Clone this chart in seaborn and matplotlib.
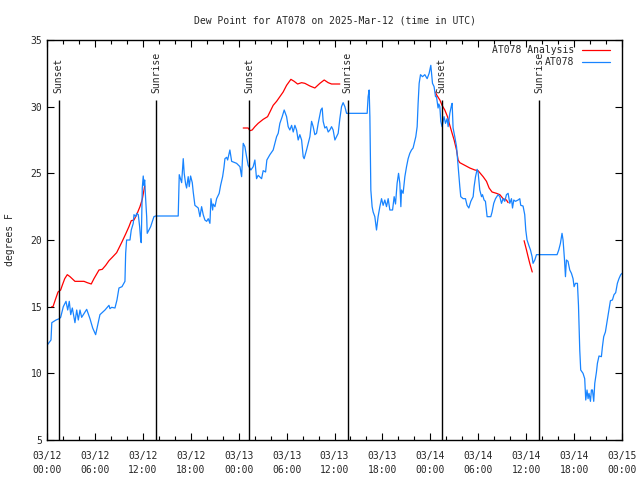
import numpy as np
import pandas as pd
import matplotlib
matplotlib.use("Agg")
import matplotlib.pyplot as plt
import matplotlib.dates as mdates
import seaborn as sns

start = pd.Timestamp("2025-03-12 00:00")

# observed dew point (hours after 03/12 00:00 UTC, degrees F)
obs_hours = [0.0, 0.5, 0.6, 1.13, 1.54, 1.71, 2.04, 2.38, 2.59, 2.79, 2.97, 3.17, 3.5, 3.72,
             3.92, 4.13, 4.34, 4.97, 5.38, 5.72, 6.09, 6.42, 6.63, 7.26, 7.76, 7.88, 8.1, 8.51,
             8.76, 9.01, 9.39, 9.76, 9.85, 9.97, 10.39, 10.55, 10.8, 10.89, 11.1, 11.23, 11.43,
             11.6, 11.73, 11.8, 11.93, 12.05, 12.14, 12.23, 12.35, 12.48, 12.55, 12.77, 12.98,
             13.39, 13.6, 16.43, 16.56, 16.86, 17.06, 17.18, 17.36, 17.48, 17.68, 17.81, 17.98,
             18.19, 18.31, 18.52, 18.74, 18.94, 19.15, 19.36, 19.56, 19.77, 19.99, 20.19, 20.4,
             20.53, 20.74, 20.81, 21.03, 21.24, 21.56, 21.74, 21.99, 22.15, 22.28, 22.49, 22.62,
             22.9, 23.12, 23.74, 24.16, 24.37, 24.57, 24.78, 24.99, 25.19, 25.53, 25.82, 26.03,
             26.24, 26.44, 26.87, 27.07, 27.37, 27.53, 27.91, 28.32, 28.75, 28.95, 29.16, 29.45,
             29.7, 30.0, 30.2, 30.41, 30.63, 30.83, 31.04, 31.25, 31.45, 31.66, 31.88, 32.08,
             32.2, 32.5, 32.92, 33.13, 33.33, 33.54, 33.75, 33.96, 34.29, 34.46, 34.58, 34.79,
             35.0, 35.21, 35.42, 35.63, 35.83, 36.05, 36.26, 36.46, 36.67, 36.88, 37.08, 37.3,
             37.51, 40.09, 40.21, 40.34, 40.43, 40.55, 40.71, 40.84, 41.05, 41.26, 41.46, 41.68,
             41.89, 42.09, 42.3, 42.51, 42.72, 42.93, 43.27, 43.47, 43.64, 43.84, 44.02, 44.18,
             44.31, 44.39, 44.59, 44.81, 45.02, 45.22, 45.43, 45.64, 45.84, 46.18, 46.35, 46.47,
             46.6, 46.77, 47.02, 47.31, 47.6, 47.85, 48.06, 48.27, 48.47, 48.65, 48.77, 48.97,
             49.06, 49.19, 49.31, 49.47, 49.72, 49.9, 50.1, 50.23, 50.44, 50.65, 50.73, 50.85,
             51.06, 51.28, 51.48, 51.69, 51.81, 52.1, 52.4, 52.6, 52.82, 53.07, 53.36, 53.48,
             53.66, 53.86, 53.98, 54.19, 54.41, 54.53, 54.73, 54.9, 55.11, 55.57, 55.73, 55.94,
             56.16, 56.48, 56.7, 56.91, 57.11, 57.32, 57.53, 57.74, 57.95, 58.16, 58.29, 58.45,
             58.66, 58.99, 59.2, 59.32, 59.61, 59.82, 59.95, 60.11, 60.33, 60.54, 60.74, 60.86,
             61.08, 61.29, 63.87, 64.08, 64.29, 64.49, 64.62, 64.79, 64.92, 65.04, 65.24, 65.46,
             65.67, 65.87, 66.0, 66.17, 66.42, 66.55, 66.71, 66.83, 67.12, 67.33, 67.46, 67.62,
             67.75, 67.87, 68.05, 68.17, 68.3, 68.46, 68.59, 68.8, 68.92, 69.12, 69.42, 69.55,
             69.71, 69.92, 70.13, 70.34, 70.55, 70.8, 71.0, 71.21, 71.42, 71.62, 71.84, 72.0]
obs_dewpt = [12.1, 12.5, 13.8, 14.0, 14.1, 14.2, 15.0, 15.4, 14.75, 15.4, 14.4, 14.9, 13.8, 14.75,
             14.0, 14.75, 14.2, 14.8, 14.1, 13.4, 12.9, 13.8, 14.4, 14.75, 15.1, 14.85, 14.95, 14.9,
             15.5, 16.4, 16.5, 16.9, 19.0, 20.0, 20.0, 20.75, 21.25, 21.9, 21.75, 22.0, 21.9,
             21.0, 20.0, 19.8, 23.9, 24.8, 24.1, 24.5, 23.1, 21.75, 20.5, 20.75, 21.0,
             21.75, 21.8, 21.8, 24.9, 24.3, 26.1, 25.0, 24.2, 23.9, 24.75, 24.0, 24.8,
             24.3, 23.6, 22.6, 22.5, 22.4, 21.75, 22.5, 21.9, 21.5, 21.4, 21.6, 21.25,
             23.1, 22.25, 22.7, 22.5, 23.1, 23.5, 24.1, 24.75, 25.4, 26.1, 26.2, 26.0,
             26.75, 25.9, 25.75, 25.5, 24.75, 27.25, 27.0, 26.25, 25.6, 25.25, 25.5, 26.0,
             24.6, 24.85, 24.6, 25.2, 25.1, 26.0, 26.4, 26.75, 27.75, 28.0, 28.75, 29.25,
             29.75, 29.25, 28.5, 28.25, 28.6, 28.1, 28.6, 28.25, 27.5, 27.9, 27.5, 26.25,
             26.1, 26.75, 27.75, 28.9, 28.5, 27.9, 28.0, 28.75, 29.75, 29.9, 28.9, 28.4,
             28.5, 28.1, 28.25, 28.5, 28.25, 27.5, 27.75, 28.0, 29.1, 30.0, 30.3, 30.0,
             29.5, 29.5, 30.75, 31.25, 29.25, 23.75, 22.5, 22.1, 21.75, 20.75, 21.75, 22.5,
             23.1, 22.6, 23.0, 22.5, 23.1, 22.25, 22.25, 23.25, 22.7, 24.25, 25.0, 24.25,
             22.5, 23.75, 23.5, 24.75, 25.5, 26.1, 26.5, 26.75, 26.9, 27.75, 28.5, 30.25,
             31.75, 32.4, 32.25, 32.4, 32.1, 32.5, 33.1, 31.75, 31.5, 30.75, 30.75, 29.9,
             30.2, 30.0, 28.9, 28.5, 29.25, 28.75, 29.1, 28.5, 29.5, 30.1, 30.25, 28.4,
             27.75, 27.0, 25.5, 24.0, 23.25, 23.1, 23.1, 22.6, 22.4, 22.9, 23.25, 24.0,
             24.75, 25.3, 25.1, 23.75, 23.25, 23.4, 23.0, 22.9, 21.75, 21.75, 22.1, 22.75,
             23.1, 23.4, 23.25, 22.75, 23.1, 22.9, 23.4, 23.5, 22.75, 23.1, 22.4, 23.0,
             22.9, 23.0, 23.1, 22.6, 22.55, 21.9, 20.75, 20.0, 19.6, 19.25, 18.75, 18.25,
             18.5, 18.9, 18.9, 19.25, 19.75, 20.5, 20.0, 18.6, 17.25, 18.5, 18.4, 17.75,
             17.5, 17.1, 16.5, 16.75, 16.75, 15.1, 11.75, 10.25, 10.0, 9.6, 8.0, 8.75,
             8.1, 8.5, 7.9, 8.75, 8.75, 7.9, 9.25, 10.1, 10.75, 11.3, 11.25, 12.0,
             12.75, 13.1, 13.9, 14.75, 15.45, 15.5, 15.9, 16.05, 16.75, 17.1, 17.4, 17.5]

# analysis dew point, four separate pieces
ana_seg = [1] * 31 + [2] * 26 + [3] * 25 + [4] * 5
ana_hours = [0.59, 0.75, 1.09, 1.38, 1.71, 1.91, 2.22, 2.54, 2.88, 3.5, 4.63, 5.04, 5.54, 5.88,
             6.22, 6.51, 6.92, 7.35, 7.76, 8.17, 8.72, 9.01, 9.42, 9.85, 10.26, 10.55, 10.89,
             11.23, 11.64, 11.93, 12.23,
             24.57, 25.19, 25.41, 25.69, 26.03, 26.44, 27.07, 27.62, 27.91, 28.32, 28.75, 29.16,
             29.57, 30.0, 30.54, 30.95, 31.38, 31.88, 32.29, 32.92, 33.54, 34.17, 34.71, 35.21,
             35.63, 36.67,
             48.65, 48.77, 49.19, 49.47, 49.81, 50.15, 50.44, 50.73, 50.98, 51.28, 51.48, 51.69,
             52.32, 52.94, 53.57, 53.98, 54.61, 55.03, 55.36, 55.73, 56.28, 56.7, 57.11, 57.53,
             57.74,
             59.74, 60.04, 60.24, 60.45, 60.76]
ana_dewpt = [15.0, 15.0, 15.6, 16.1, 16.25, 16.6, 17.1, 17.4, 17.25, 16.9, 16.9, 16.8, 16.7, 17.1,
             17.45, 17.75, 17.8, 18.1, 18.45, 18.7, 19.05, 19.4, 19.9, 20.45, 21.0, 21.45, 21.5,
             21.9, 22.5, 23.05, 24.05,
             28.4, 28.4, 28.2, 28.25, 28.5, 28.75, 29.05, 29.25, 29.6, 30.1, 30.4, 30.75,
             31.1, 31.6, 32.05, 31.9, 31.7, 31.8, 31.75, 31.55, 31.4, 31.75, 32.0, 31.8,
             31.7, 31.7,
             31.1, 30.9, 30.5, 30.1, 29.75, 29.25, 28.6, 28.0, 27.5, 26.75, 26.0, 25.8,
             25.6, 25.4, 25.25, 25.2, 24.75, 24.4, 23.9, 23.6, 23.5, 23.4, 23.1, 23.0,
             22.8,
             19.95, 19.25, 18.75, 18.25, 17.6]

sun_hours = [1.44, 13.64, 25.3, 37.67, 49.4, 61.6]
sun_labels = ["Sunset", "Sunrise", "Sunset", "Sunrise", "Sunset", "Sunrise"]

obs = pd.DataFrame({"time": start + pd.to_timedelta(obs_hours, unit="h"), "dewpt": obs_dewpt})
ana = pd.DataFrame({"time": start + pd.to_timedelta(ana_hours, unit="h"), "dewpt": ana_dewpt,
                    "seg": ana_seg})
sun_times = start + pd.to_timedelta(sun_hours, unit="h")

sns.set_style("ticks")
plt.rcParams["font.family"] = ["DejaVu Sans Mono"]
plt.rcParams["font.size"] = 7

fig = plt.figure(figsize=(6.4, 4.8), dpi=100)
ax = fig.add_axes([47 / 640, 40 / 480, 575 / 640, 400 / 480])

blue = "#1884ff"
red = "#ff0000"
sns.lineplot(data=ana, x="time", y="dewpt", units="seg", estimator=None, color=red,
             linewidth=0.9, ax=ax)
sns.lineplot(data=obs, x="time", y="dewpt", estimator=None, color=blue, linewidth=0.9, ax=ax)

for t, lab in zip(sun_times, sun_labels):
    ax.vlines(t, 5, 30.5, color="black", linewidth=1.0)
    ax.text(t, 31.0, lab, rotation=90, ha="center", va="bottom", fontsize=7)

ax.set_xlim(start, start + pd.Timedelta(hours=72))
ax.set_ylim(5, 35)
ax.set_yticks(np.arange(5, 36, 5))
ax.xaxis.set_major_locator(mdates.HourLocator(byhour=[0, 6, 12, 18]))
ax.xaxis.set_minor_locator(mdates.HourLocator(interval=2))
ax.xaxis.set_major_formatter(mdates.DateFormatter("%m/%d\n%H:%M"))
ax.tick_params(which="both", direction="in", top=True, right=True, labelsize=7, color="black")
ax.tick_params(which="major", length=5, width=0.8)
ax.tick_params(axis="x", which="major", pad=8)
ax.tick_params(which="minor", length=3, width=0.8)
for s in ax.spines.values():
    s.set_color("black")
    s.set_linewidth(1.0)

ax.set_xlabel("")
ax.set_ylabel("degrees F", fontsize=7)
ax.yaxis.set_label_coords(-0.056, 0.5)
ax.set_title("Dew Point for AT078 on 2025-Mar-12 (time in UTC)", fontsize=7, pad=12)

# gnuplot style key: text right aligned, sample line to its right
ax.text(0.9165, 0.975, "AT078 Analysis", transform=ax.transAxes, ha="right", va="center")
ax.plot([0.930, 0.979], [0.975, 0.975], transform=ax.transAxes, color=red, linewidth=0.9)
ax.text(0.9165, 0.945, "AT078", transform=ax.transAxes, ha="right", va="center")
ax.plot([0.930, 0.979], [0.945, 0.945], transform=ax.transAxes, color=blue, linewidth=0.9)

fig.canvas.draw()
for lbl in ax.get_xticklabels():
    lbl.set_linespacing(1.5)

fig.savefig("out.png", dpi=100)
